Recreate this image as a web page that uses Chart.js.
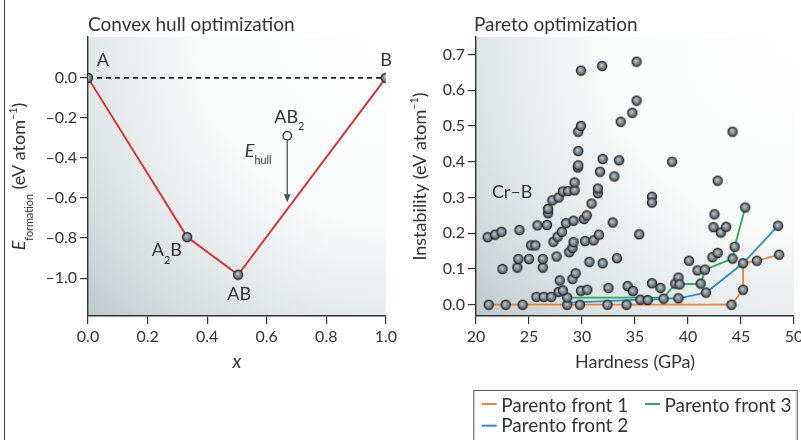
<!DOCTYPE html>
<html>
<head>
<meta charset="utf-8">
<script src="https://cdn.jsdelivr.net/npm/chart.js@4.4.1/dist/chart.umd.min.js"></script>
<style>
  html, body { margin: 0; padding: 0; background: #fff; overflow: hidden; }
  #wrap { position: relative; width: 801px; height: 440px; overflow: hidden; }
  #hull { position: absolute; left: 0; top: 0; }
  #pareto { position: absolute; left: 400px; top: 0; }
  #frame { position: absolute; left: 4px; top: 0; height: 440px; border-left: 1.5px solid #3a3a3a; }
</style>
</head>
<body>
<div id="wrap">
  <canvas id="hull" width="400" height="440"></canvas>
  <canvas id="pareto" width="410" height="440"></canvas>
  <div id="frame"></div>
</div>
<script>
// ---- convex hull panel ----
const hullX = [0, 0.333, 0.504, 1];
const hullE = [0, -0.795, -0.983, 0];
const offHullX = [0.669];
const offHullE = [-0.289];
const compositionTicks = [0, 0.2, 0.4, 0.6, 0.8, 1.0];
const formationTicks = [0, -0.2, -0.4, -0.6, -0.8, -1.0];

// ---- pareto panel ----
const hardness = [
  21.2, 22.8, 24.4, 28.6, 29.8, 32.4, 34.2, 44.1,
  25.7, 26.4, 27.1, 28.6, 35.5, 36.2, 37.7, 39.1, 41.7,
  27.8, 28.2, 27.9, 29.1, 29.4, 29.9, 30.5, 32.5, 34.3, 34.8, 36.6, 37.4, 38.8, 39.1, 39.2, 41.2, 45.2,
  22.5, 23.9, 24.0, 25.0, 26.3, 26.3, 27.6, 28.8, 30.7, 31.95, 33.3, 40.1, 40.9, 41.6, 42.3, 42.8, 44.2, 45.2, 46.5, 48.6,
  21.1, 21.8, 22.4, 24.1, 25.2, 25.6, 25.8, 26.7, 27.3, 27.7, 28.1, 28.5, 29.1, 29.2, 29.2, 30.2, 30.45, 30.3, 31.1, 31.6, 32.9, 35.4, 44.4, 42.4, 43.1, 43.6, 42.5, 48.5,
  26.8, 26.8, 27.2, 27.8, 28.2, 28.7, 29.3, 29.3, 30.9, 31.5, 31.5, 36.6, 36.6, 42.8, 45.4, 33.05,
  31.7, 31.95, 33.5, 29.6, 29.65, 29.65, 29.65, 29.9, 29.9, 31.9, 35.15, 35.15, 34.75, 33.65, 38.5, 44.2
];
const instability = [
  0, 0, 0, 0, 0, 0, 0, 0,
  0.022, 0.022, 0.022, 0.02, 0.014, 0.013, 0.017, 0.018, 0.034,
  0.036, 0.04, 0.068, 0.072, 0.088, 0.039, 0.042, 0.047, 0.052, 0.038, 0.06, 0.047, 0.059, 0.076, 0.057, 0.059, 0.042,
  0.1, 0.104, 0.128, 0.128, 0.104, 0.128, 0.135, 0.147, 0.12, 0.116, 0.13, 0.123, 0.096, 0.098, 0.133, 0.145, 0.129, 0.116, 0.123, 0.14,
  0.189, 0.196, 0.204, 0.209, 0.166, 0.166, 0.222, 0.223, 0.176, 0.19, 0.204, 0.228, 0.159, 0.175, 0.235, 0.24, 0.25, 0.178, 0.18, 0.196, 0.23, 0.197, 0.162, 0.217, 0.202, 0.218, 0.253, 0.221,
  0.256, 0.268, 0.292, 0.3, 0.317, 0.318, 0.32, 0.342, 0.283, 0.312, 0.325, 0.302, 0.286, 0.347, 0.272, 0.359,
  0.372, 0.408, 0.404, 0.384, 0.39, 0.43, 0.484, 0.5, 0.655, 0.668, 0.68, 0.571, 0.537, 0.512, 0.4, 0.484
];
const front1Hardness = [21.2, 22.8, 24.4, 28.6, 29.8, 32.4, 34.2, 44.1, 45.2, 45.2, 46.5, 48.6];
const front1Instability = [0, 0, 0, 0, 0, 0, 0, 0, 0.042, 0.116, 0.123, 0.14];
const front2Hardness = [28.7, 35.5, 36.2, 37.7, 39.1, 41.7, 45.2, 48.5];
const front2Instability = [0.006, 0.014, 0.013, 0.017, 0.018, 0.034, 0.116, 0.221];
const front3Hardness = [28.6, 37.7, 38.8, 41.2, 41.6, 44.2, 44.4, 45.4];
const front3Instability = [0.02, 0.02, 0.058, 0.058, 0.098, 0.129, 0.162, 0.272];
const frontNames = ['Parento front 1', 'Parento front 2', 'Parento front 3'];
const hardnessTicks = [20, 25, 30, 35, 40, 45, 50];
const instabilityTicks = [0, 0.1, 0.2, 0.3, 0.4, 0.5, 0.6, 0.7];

const FONT = "Lato, 'Open Sans', sans-serif";
const INK = '#333';
const frontColors = ['#f0822a', '#2b8fd4', '#20ad5c'];

const pts = (xs, ys) => xs.map((x, i) => ({ x: x, y: ys[i] }));

function makeSphere(r) {
  const c = document.createElement('canvas');
  const s = Math.ceil(r * 2 + 2);
  c.width = c.height = s;
  const g = c.getContext('2d');
  const m = s / 2;
  const grad = g.createRadialGradient(m - r * 0.2, m - r * 0.25, 0, m, m, r);
  grad.addColorStop(0, '#c9d1d4');
  grad.addColorStop(0.5, '#89949a');
  grad.addColorStop(1, '#4e575c');
  g.beginPath();
  g.arc(m, m, r, 0, Math.PI * 2);
  g.fillStyle = grad;
  g.fill();
  g.lineWidth = 1.2;
  g.strokeStyle = '#262b2e';
  g.stroke();
  return c;
}
const sphere = makeSphere(4.6);

// text with italic / sub / sup pieces
function drawRich(ctx, segs, x, y, size, align) {
  const parts = segs.map(([t, k]) => {
    const small = k === 'sub' || k === 'sup';
    const f = (k === 'i' ? 'italic ' : '') + (small ? size * 0.6 : size) + 'px ' + FONT;
    ctx.font = f;
    return { t, f, w: ctx.measureText(t).width, dy: k === 'sub' ? size * 0.42 : k === 'sup' ? -size * 0.42 : 0 };
  });
  const total = parts.reduce((s, p) => s + p.w, 0);
  let cx = align === 'center' ? x - total / 2 : align === 'right' ? x - total : x;
  ctx.textAlign = 'left';
  ctx.textBaseline = 'alphabetic';
  for (const p of parts) {
    ctx.font = p.f;
    ctx.fillText(p.t, cx, y + p.dy);
    cx += p.w;
  }
}

const backdrop = {
  id: 'backdrop',
  beforeDraw(chart) {
    const { ctx, chartArea: a } = chart;
    const r = Math.hypot(a.right - a.left, a.bottom - a.top);
    const g = ctx.createRadialGradient(a.right, a.top, 0, a.right, a.top, r);
    g.addColorStop(0, '#ffffff');
    g.addColorStop(0.45, '#fafbfb');
    g.addColorStop(0.75, '#dfe5e6');
    g.addColorStop(1, '#bfcacd');
    ctx.save();
    ctx.fillStyle = g;
    ctx.fillRect(a.left, a.top, a.right - a.left, a.bottom - a.top);
    ctx.restore();
  }
};

// panel title, rotated y title and point labels
const notes = {
  id: 'notes',
  afterDraw(chart, args, opts) {
    const { ctx, chartArea: a, scales } = chart;
    ctx.save();
    ctx.fillStyle = INK;
    drawRich(ctx, [[opts.title, '']], a.left + opts.titleDx, 30.5, 19, 'left');
    ctx.translate(a.left + opts.yTitleDx, (a.top + a.bottom) / 2);
    ctx.rotate(-Math.PI / 2);
    drawRich(ctx, opts.yTitle, 0, 0, 18, 'center');
    ctx.restore();
    ctx.save();
    ctx.fillStyle = INK;
    for (const n of opts.items) {
      const px = scales.x.getPixelForValue(n.x) + n.dx;
      const py = scales.y.getPixelForValue(n.y) + n.dy;
      drawRich(ctx, n.segs, px, py, 18, n.align);
    }
    ctx.restore();
  }
};

const hullArrow = {
  id: 'hullArrow',
  afterDatasetsDraw(chart) {
    const { ctx, scales } = chart;
    const xv = offHullX[0];
    let k = 0;
    while (k < hullX.length - 2 && hullX[k + 1] < xv) k++;
    const hullAt = hullE[k] + (hullE[k + 1] - hullE[k]) * (xv - hullX[k]) / (hullX[k + 1] - hullX[k]);
    const x = scales.x.getPixelForValue(xv);
    const y0 = scales.y.getPixelForValue(offHullE[0]) + 4.5;
    const y1 = scales.y.getPixelForValue(hullAt) - 7;
    ctx.save();
    ctx.strokeStyle = '#465661';
    ctx.fillStyle = '#465661';
    ctx.lineWidth = 1.3;
    ctx.beginPath();
    ctx.moveTo(x, y0);
    ctx.lineTo(x, y1 - 5);
    ctx.stroke();
    ctx.beginPath();
    ctx.moveTo(x, y1);
    ctx.lineTo(x - 3.5, y1 - 8);
    ctx.lineTo(x + 3.5, y1 - 8);
    ctx.closePath();
    ctx.fill();
    ctx.restore();
  }
};

const frontLegend = {
  id: 'frontLegend',
  afterDraw(chart) {
    const { ctx, chartArea: a } = chart;
    const left = a.left - 2.7, top = a.bottom + 74, right = a.right + 2.7;
    ctx.save();
    ctx.strokeStyle = '#555';
    ctx.lineWidth = 1;
    ctx.strokeRect(left + 0.5, top + 0.5, right - left, 80);
    const slots = [[0, 0, 0], [2, 1, 0], [1, 0, 1]];
    for (const [i, col, row] of slots) {
      const sx = left + 8.4 + col * 163.3;
      const sy = top + 14 + row * 21.7;
      ctx.strokeStyle = frontColors[i];
      ctx.lineWidth = 2;
      ctx.beginPath();
      ctx.moveTo(sx, sy);
      ctx.lineTo(sx + 15, sy);
      ctx.stroke();
      ctx.fillStyle = INK;
      drawRich(ctx, [[frontNames[i], '']], sx + 19.5, top + 21.7 + row * 20.5, 19, 'left');
    }
    ctx.restore();
  }
};

function axis(min, max, tickVals, fmt, extra) {
  return Object.assign({
    type: 'linear',
    min: min,
    max: max,
    afterBuildTicks: s => { s.ticks = tickVals.map(v => ({ value: v })); },
    ticks: { color: INK, font: { family: FONT, size: 16 }, callback: fmt, autoSkip: false, maxRotation: 0 },
    grid: { drawOnChartArea: false, tickLength: 8, color: INK, lineWidth: 1.2 },
    border: { color: INK, width: 1.4 }
  }, extra);
}

const dashFmt = v => (v < 0 ? '\u2013' + Math.abs(v).toFixed(1) : v.toFixed(1));

new Chart(document.getElementById('hull'), {
  type: 'scatter',
  data: {
    datasets: [
      { label: 'stable', data: pts(hullX, hullE), pointStyle: sphere, pointRadius: 5, order: 0 },
      { label: 'AB2', data: pts(offHullX, offHullE), pointStyle: 'circle', pointRadius: 4.2,
        pointBackgroundColor: '#fff', pointBorderColor: '#2a3034', pointBorderWidth: 1.3, order: 0 },
      { label: 'hull', data: pts(hullX, hullE), showLine: true, pointRadius: 0,
        borderColor: '#e2252c', borderWidth: 1.8, order: 1 },
      { label: 'tie', data: [{ x: hullX[0], y: hullE[0] }, { x: hullX[hullX.length - 1], y: hullE[hullE.length - 1] }],
        showLine: true, pointRadius: 0, borderColor: '#222', borderWidth: 1.6, borderDash: [5, 4], order: 2 }
    ]
  },
  options: {
    responsive: false,
    animation: false,
    events: [],
    layout: { padding: { left: 0, right: 12, top: 37, bottom: 64 } },
    scales: {
      x: axis(0, 1, compositionTicks, v => v.toFixed(1), {
        afterFit: s => { s.height = 60; },
        title: { display: true, text: 'x', color: INK, font: { family: FONT, size: 19, style: 'italic' }, padding: { top: 0, bottom: 3 } }
      }),
      y: axis(-1.189, 0.204, formationTicks, dashFmt, { afterFit: s => { s.width = 88; } })
    },
    plugins: {
      legend: { display: false },
      tooltip: { enabled: false },
      notes: {
        title: 'Convex hull optimization',
        titleDx: 0,
        yTitleDx: -63,
        yTitle: [['E', 'i'], ['formation', 'sub'], [' (eV atom', ''], ['\u20131', 'sup'], [')', '']],
        items: [
          { segs: [['A', '']], x: hullX[0], y: hullE[0], dx: 8.7, dy: -11.7, align: 'left' },
          { segs: [['B', '']], x: hullX[3], y: hullE[3], dx: -5.6, dy: -11.7, align: 'left' },
          { segs: [['A', ''], ['2', 'sub'], ['B', '']], x: hullX[1], y: hullE[1], dx: -5.4, dy: 19.3, align: 'right' },
          { segs: [['AB', '']], x: hullX[2], y: hullE[2], dx: 1, dy: 25.7, align: 'center' },
          { segs: [['AB', ''], ['2', 'sub']], x: offHullX[0], y: offHullE[0], dx: -13, dy: -13, align: 'left' },
          { segs: [['E', 'i'], ['hull', 'sub']], x: offHullX[0], y: offHullE[0], dx: -15.7, dy: 21, align: 'right' }
        ]
      }
    }
  },
  plugins: [backdrop, hullArrow, notes]
});

new Chart(document.getElementById('pareto'), {
  type: 'scatter',
  data: {
    datasets: [
      { label: 'Cr-B', data: pts(hardness, instability), pointStyle: sphere, pointRadius: 5, order: 0 },
      { label: frontNames[0], data: pts(front1Hardness, front1Instability), showLine: true, pointRadius: 0,
        borderColor: frontColors[0], borderWidth: 1.8, order: 1 },
      { label: frontNames[1], data: pts(front2Hardness, front2Instability), showLine: true, pointRadius: 0,
        borderColor: frontColors[1], borderWidth: 1.8, order: 1 },
      { label: frontNames[2], data: pts(front3Hardness, front3Instability), showLine: true, pointRadius: 0,
        borderColor: frontColors[2], borderWidth: 1.8, order: 1 }
    ]
  },
  options: {
    responsive: false,
    animation: false,
    events: [],
    layout: { padding: { left: 0, right: 16, top: 37, bottom: 64 } },
    scales: {
      x: axis(20, 50, hardnessTicks, v => String(v), {
        afterFit: s => { s.height = 60; },
        title: { display: true, text: 'Hardness (GPa)', color: INK, font: { family: FONT, size: 18 }, padding: { top: 0, bottom: 3 } }
      }),
      y: axis(-0.0316, 0.749, instabilityTicks, v => v.toFixed(1), { afterFit: s => { s.width = 76; } })
    },
    plugins: {
      legend: { display: false },
      tooltip: { enabled: false },
      notes: {
        title: 'Pareto optimization',
        titleDx: -2,
        yTitleDx: -50,
        yTitle: [['Instability (eV atom', ''], ['\u20131', 'sup'], [')', '']],
        items: [
          { segs: [['Cr\u2013B', '']], x: 21.5, y: 0.298, dx: 0, dy: 0, align: 'left' }
        ]
      }
    }
  },
  plugins: [backdrop, notes, frontLegend]
});
</script>
</body>
</html>
